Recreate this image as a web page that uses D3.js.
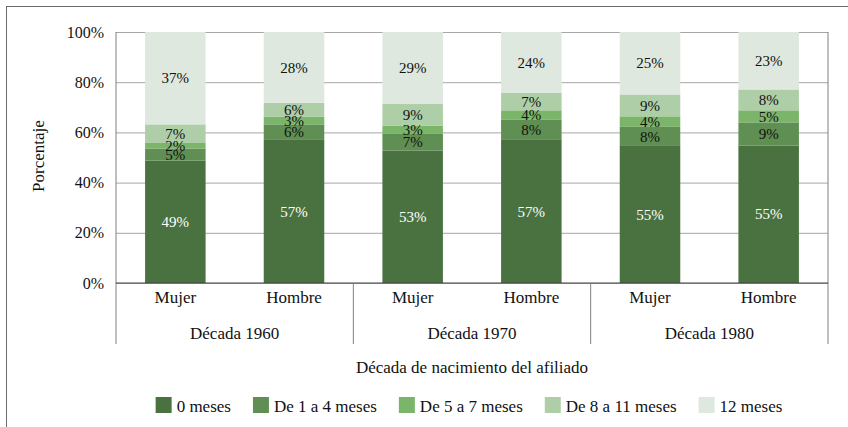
<!DOCTYPE html>
<html>
<head>
<meta charset="utf-8">
<script src="https://cdn.jsdelivr.net/npm/d3@7"></script>
<style>
  body { margin: 0; background: #fff; }
  svg text { font-family: "Liberation Serif", "Tinos", "Times New Roman", "DejaVu Serif", serif; }
</style>
</head>
<body>
<div id="chart"></div>
<script>
// data (percent of affiliates)
const categories = ["Mujer", "Hombre", "Mujer", "Hombre", "Mujer", "Hombre"];
const decades = ["Década 1960", "Década 1970", "Década 1980"];
const seriesNames = ["0 meses", "De 1 a 4 meses", "De 5 a 7 meses", "De 8 a 11 meses", "12 meses"];
const meses0 = [48.8, 57.0, 52.8, 57.0, 54.6, 54.8];
const meses1a4 = [4.8, 6.2, 6.6, 8.0, 7.6, 9.2];
const meses5a7 = [2.4, 3.0, 3.2, 3.8, 4.2, 4.8];
const meses8a11 = [7.2, 5.6, 8.7, 6.9, 8.7, 8.3];
const meses12 = [36.8, 28.2, 28.7, 24.3, 24.9, 22.9];
const yTicks = [0, 20, 40, 60, 80, 100];

const colors = ["#4a7240", "#5f8f52", "#7bb569", "#adcea6", "#dee8de"];
const FONT = "'Liberation Serif', 'Tinos', 'Times New Roman', 'DejaVu Serif', serif";

const W = 848, H = 427;
const margin = { top: 32, left: 116, right: 20, bottom: 144 };
const plotW = 828 - margin.left;
const plotH = 283 - margin.top;

const svg = d3.select("#chart").append("svg")
    .attr("width", W)
    .attr("height", H)
    .attr("font-family", FONT);

// outer frame (only left and top edges are in view)
svg.append("rect")
    .attr("x", 6.5).attr("y", 6.5)
    .attr("width", 900).attr("height", 500)
    .attr("fill", "none")
    .attr("stroke", "#6b6b6b");

const g = svg.append("g")
    .attr("transform", "translate(" + margin.left + "," + margin.top + ")");

// build the table for the stack
const seriesData = [meses0, meses1a4, meses5a7, meses8a11, meses12];
const table = categories.map((c, i) => {
    const row = { idx: i };
    seriesNames.forEach((s, k) => row[s] = seriesData[k][i]);
    return row;
});
const stacked = d3.stack().keys(seriesNames)(table);

const x = d3.scaleBand()
    .domain(d3.range(categories.length))
    .range([0, plotW])
    .paddingInner(0.49)
    .paddingOuter(0.245);

const y = d3.scaleLinear()
    .domain([0, 100])
    .range([plotH, 0]);

// gridlines + y labels
const yAxis = g.append("g")
    .call(d3.axisLeft(y).tickValues(yTicks).tickSize(-plotW).tickPadding(12).tickFormat(d => d + "%"));
yAxis.attr("font-family", FONT);
yAxis.select(".domain").remove();
yAxis.selectAll("line").attr("stroke", "#a6a6a6");
yAxis.selectAll("text")
    .attr("fill", "#111")
    .style("font-size", "16px")
    .style("font-family", FONT);

// bars
const layers = g.append("g").selectAll("g")
    .data(stacked)
    .enter().append("g")
    .attr("fill", (d, i) => colors[i]);

layers.selectAll("rect")
    .data(d => d)
    .enter().append("rect")
    .attr("x", d => x(d.data.idx))
    .attr("width", x.bandwidth())
    .attr("y", d => y(d[1]))
    .attr("height", d => y(d[0]) - y(d[1]));

// labels inside segments (small ones overlap, as in the original)
stacked.forEach((layer, k) => {
    g.append("g").selectAll("text")
        .data(layer)
        .enter().append("text")
        .attr("x", d => x(d.data.idx) + x.bandwidth() / 2)
        .attr("y", d => (y(d[0]) + y(d[1])) / 2)
        .attr("dy", "0.35em")
        .attr("text-anchor", "middle")
        .attr("fill", k === 0 ? "#fff" : "#111")
        .style("font-size", "15px")
        .text(d => Math.round(d[1] - d[0]) + "%");
});

// axis frame lines
g.append("line")
    .attr("x1", 0).attr("x2", 0).attr("y1", 0).attr("y2", plotH + 61)
    .attr("stroke", "#808080");
g.append("line")
    .attr("x1", plotW).attr("x2", plotW).attr("y1", 0).attr("y2", plotH + 61)
    .attr("stroke", "#808080");
g.append("line")
    .attr("x1", 0).attr("x2", plotW).attr("y1", plotH).attr("y2", plotH)
    .attr("stroke", "#404040");

// category labels
const xAxis = g.append("g")
    .attr("transform", "translate(0," + plotH + ")")
    .call(d3.axisBottom(x).tickSize(0).tickPadding(8).tickFormat(i => categories[i]));
xAxis.attr("font-family", FONT);
xAxis.select(".domain").remove();
xAxis.selectAll("text")
    .attr("fill", "#111")
    .style("font-size", "17px")
    .style("font-family", FONT);

// decade groups
decades.forEach((dec, j) => {
    const x0 = x(j * 2) - x.step() * x.paddingOuter();
    const x1 = x(j * 2 + 1) + x.bandwidth() + x.step() * x.paddingOuter();
    g.append("text")
        .attr("x", (x0 + x1) / 2)
        .attr("y", plotH + 56)
        .attr("text-anchor", "middle")
        .attr("fill", "#111")
        .style("font-size", "17px")
        .text(dec);
    if (j > 0) {
        g.append("line")
            .attr("x1", x0).attr("x2", x0)
            .attr("y1", plotH).attr("y2", plotH + 61)
            .attr("stroke", "#808080");
    }
});

// axis titles
g.append("text")
    .attr("x", plotW / 2)
    .attr("y", plotH + 90)
    .attr("text-anchor", "middle")
    .attr("fill", "#111")
    .style("font-size", "17px")
    .text("Década de nacimiento del afiliado");

svg.append("text")
    .attr("transform", "translate(44," + (margin.top + 124) + ") rotate(-90)")
    .attr("text-anchor", "middle")
    .attr("fill", "#111")
    .style("font-size", "17px")
    .text("Porcentaje");

// legend
const legend = svg.append("g");
let lx = 0;
seriesNames.forEach((s, i) => {
    const item = legend.append("g").attr("transform", "translate(" + lx + ",0)");
    item.append("rect")
        .attr("x", 0).attr("y", 397)
        .attr("width", 16).attr("height", 16)
        .attr("fill", colors[i]);
    const t = item.append("text")
        .attr("x", 21).attr("y", 412)
        .attr("fill", "#111")
        .style("font-size", "17px")
        .text(s);
    lx += 21 + t.node().getComputedTextLength() + 22;
});
const legendW = lx - 22;
legend.attr("transform", "translate(" + (469 - legendW / 2) + ",0)");
</script>
</body>
</html>
